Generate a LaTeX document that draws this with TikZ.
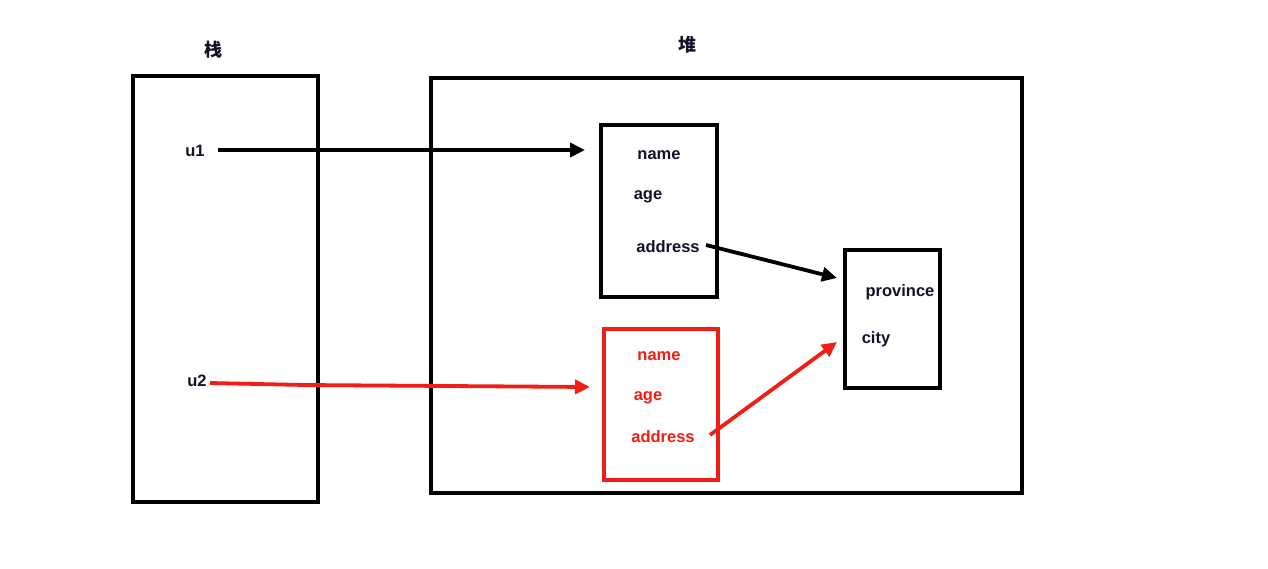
\documentclass[tikz,border=0pt]{standalone}
\usepackage{fontspec}
\setmainfont{Liberation Sans}
\newfontfamily\cjk{Noto Sans CJK SC}
\usetikzlibrary{arrows.meta}
\definecolor{txt}{RGB}{18,18,40}
\definecolor{myred}{RGB}{240,30,20}
\tikzset{
  box/.style={draw=black,line width=4pt,minimum width=#1,inner sep=0pt,outer sep=0pt},
  lbl/.style={font=\fontsize{16.5}{19}\selectfont\bfseries,text=txt,inner sep=0pt},
  rlbl/.style={lbl,text=myred},
  clbl/.style={font=\cjk\fontsize{18}{20}\selectfont\bfseries,text=txt,inner sep=0pt},
  arr/.style={line width=3.8pt,-{Triangle[length=15pt,width=14pt]}},
}
\begin{document}
\begin{tikzpicture}[x=1pt,y=-1pt]
\useasboundingbox[fill=white] (0,0) rectangle (1268,568);
% containers
\node[box=185pt,minimum height=426pt] (stack) at (225.5,289) {};
\node[box=591pt,minimum height=415pt] (heap) at (726.5,285.5) {};
\node[clbl] (stackT) at (213,50) {栈};
\node[clbl] (heapT) at (687,45) {堆};
% objects
\node[box=116pt,minimum height=172pt] (o1) at (659,211) {};
\node[box=114pt,minimum height=151pt,draw=myred] (o2) at (661,404.5) {};
\node[box=95pt,minimum height=138pt] (o3) at (892.5,319) {};
% labels
\node[lbl] (u1) at (195,151) {u1};
\node[lbl] (u2) at (197,381) {u2};
\node[lbl] (n1) at (659,155) {name};
\node[lbl] (a1) at (648,197) {age};
\node[lbl] (d1) at (668,247) {address};
\node[rlbl] (n2) at (659,356) {name};
\node[rlbl] (a2) at (648,398) {age};
\node[rlbl] (d2) at (663,437) {address};
\node[lbl] (pr) at (900,292) {province};
\node[lbl] (ci) at (876,339) {city};
% connector ends
\coordinate (u1s) at (218,150);
\coordinate (u1e) at (585,150);
\coordinate (u2s) at (210,383);
\coordinate (u2e) at (590,387);
\coordinate (d1s) at (706,245);
\coordinate (d1e) at (837,278);
\coordinate (d2s) at (710,435);
\coordinate (d2e) at (837,342);
% connectors
\draw[arr] (u1s) -- (u1e);
\draw[arr,myred] (u2s) -- (305,385) -- (u2e);
\draw[arr] (d1s) -- (d1e);
\draw[arr,myred] (d2s) -- (d2e);
\end{tikzpicture}
\end{document}
